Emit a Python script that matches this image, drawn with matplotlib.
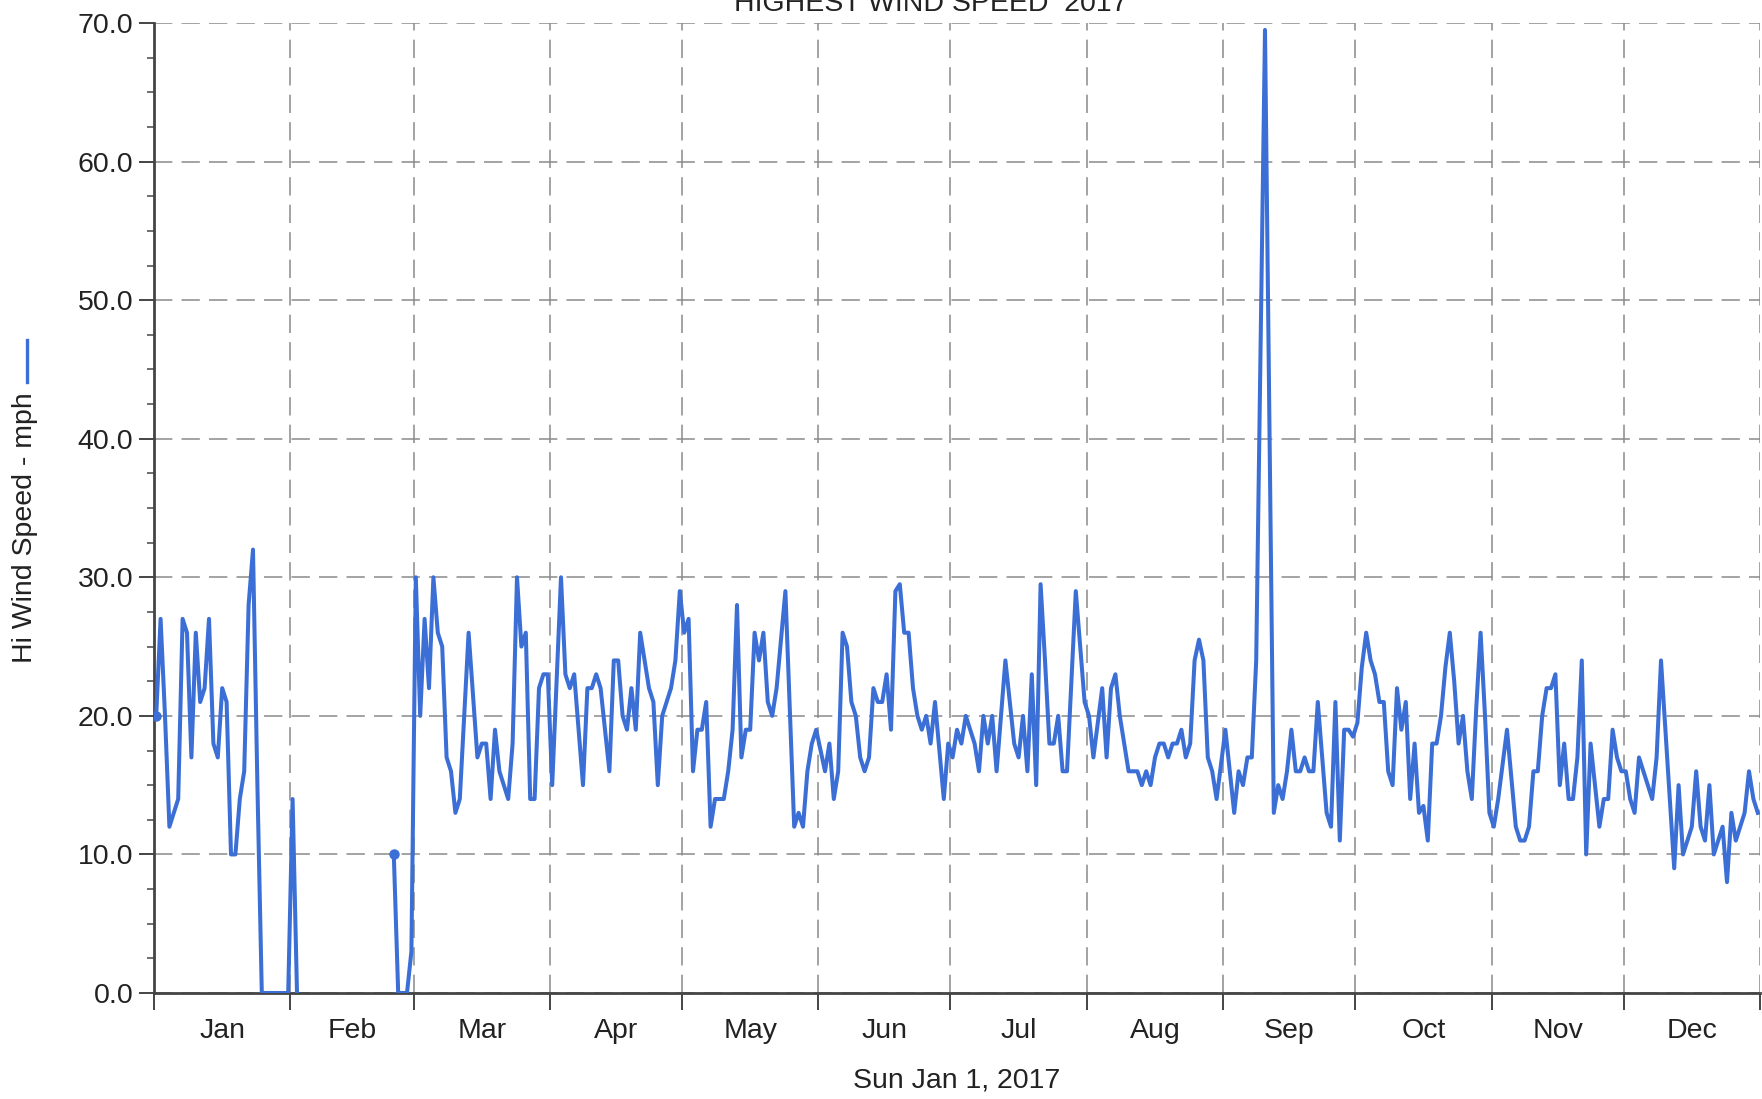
#!/usr/bin/env python3
"""
Daily highest wind speed for 2017 (Hi Wind Speed - mph).
"""

import numpy as np
import matplotlib
matplotlib.use('Agg')
import matplotlib.pyplot as plt
from matplotlib.lines import Line2D
from matplotlib.ticker import MultipleLocator, FixedLocator, NullFormatter

nan = np.nan

# daily highs, one list per month (nan = no data)
jan = [20, 27, 20, 12, 13, 14, 27, 26, 17, 26, 21, 22, 27, 18, 17, 22,
       21, 10, 10, 14, 16, 28, 32, 15, 0, 0, 0, 0, 0, 0, 0]
feb = [14, 0] + [nan] * 21 + [10, 0, 0, 0, 3]
mar = [30, 20, 27, 22, 30, 26, 25, 17, 16, 13, 14, 20, 26, 21.5, 17, 18,
       18, 14, 19, 16, 15, 14, 18, 30, 25, 26, 14, 14, 22, 23, 23]
apr = [15, 22.5, 30, 23, 22, 23, 19, 15, 22, 22, 23, 22, 19, 16, 24, 24,
       20, 19, 22, 19, 26, 24, 22, 21, 15, 20, 21, 22, 24, 29]
may = [26, 27, 16, 19, 19, 21, 12, 14, 14, 14, 16, 19, 28, 17, 19, 19,
       26, 24, 26, 21, 20, 22, 25.5, 29, 20.5, 12, 13, 12, 16, 18, 19]
jun = [17.5, 16, 18, 14, 16, 26, 25, 21, 20, 17, 16, 17, 22, 21, 21, 23,
       19, 29, 29.5, 26, 26, 22, 20, 19, 20, 18, 21, 17.5, 14, 18]
jul = [17, 19, 18, 20, 19, 18, 16, 20, 18, 20, 16, 20, 24, 21, 18, 17,
       20, 16, 23, 15, 29.5, 24, 18, 18, 20, 16, 16, 22.5, 29, 25, 21]
aug = [20, 17, 19.5, 22, 17, 22, 23, 20, 18, 16, 16, 16, 15, 16, 15, 17,
       18, 18, 17, 18, 18, 19, 17, 18, 24, 25.5, 24, 17, 16, 14, 16.5]
sep = [19, 16, 13, 16, 15, 17, 17, 24, 47, 69.5, 41, 13, 15, 14, 16, 19,
       16, 16, 17, 16, 16, 21, 17, 13, 12, 21, 11, 19, 19, 18.5]
oct_ = [19.5, 23.5, 26, 24, 23, 21, 21, 16, 15, 22, 19, 21, 14, 18, 13, 13.5,
        11, 18, 18, 20, 23.5, 26, 22.5, 18, 20, 16, 14, 20.5, 26, 20, 13]
nov = [12, 14, 16.5, 19, 15.5, 12, 11, 11, 12, 16, 16, 20, 22, 22, 23, 15,
       18, 14, 14, 17, 24, 10, 18, 15, 12, 14, 14, 19, 17, 16]
dec = [16, 14, 13, 17, 16, 15, 14, 17, 24, 19, 14, 9, 15, 10, 11, 12,
       16, 12, 11, 15, 10, 11, 12, 8, 13, 11, 12, 13, 16, 14, 13]

month_labels = ['Jan', 'Feb', 'Mar', 'Apr', 'May', 'Jun',
                'Jul', 'Aug', 'Sep', 'Oct', 'Nov', 'Dec']
month_days = [31, 28, 31, 30, 31, 30, 31, 31, 30, 31, 30, 31]

LINE_COLOR = '#3b6fd6'
TEXT_COLOR = '#222222'
W, H = 1762, 1099


def main():
    plt.rcParams['font.family'] = ['Liberation Sans', 'DejaVu Sans']

    speed = np.array(jan + feb + mar + apr + may + jun + jul + aug + sep
                     + oct_ + nov + dec, dtype=float)
    days = np.arange(len(speed)) + 0.5
    starts = np.concatenate([[0], np.cumsum(month_days)])
    mids = (starts[:-1] + starts[1:]) / 2

    # first point of each data run gets a dot
    valid = ~np.isnan(speed)
    prev_nan = np.concatenate([[True], ~valid[:-1]])
    seg_start = valid & prev_nan

    fig = plt.figure(figsize=(W / 100, H / 100), dpi=100)
    fig.patch.set_facecolor('white')
    ax = fig.add_axes([154 / W, 106 / H, (1760 - 154) / W, (993 - 23) / H])
    ax.set_facecolor('white')

    ax.plot(days, speed, color=LINE_COLOR, linewidth=2.9, zorder=3)
    ax.plot(days[seg_start], speed[seg_start], 'o', color=LINE_COLOR,
            markersize=6.5, zorder=3)

    ax.set_xlim(0, starts[-1])
    ax.set_ylim(0, 70)

    # y axis
    ax.yaxis.set_major_locator(MultipleLocator(10))
    ax.yaxis.set_minor_locator(MultipleLocator(2.5))
    ax.yaxis.set_major_formatter(plt.FuncFormatter(lambda v, p: f'{v:.1f}'))
    ax.tick_params(axis='y', which='major', length=11, width=1.4,
                   labelsize=20.5, labelcolor=TEXT_COLOR, color='#444444', pad=4)
    ax.tick_params(axis='y', which='minor', length=5, width=1.2, color='#555555')

    # x axis: ticks at month starts, labels mid-month
    ax.xaxis.set_major_locator(FixedLocator(starts))
    ax.xaxis.set_major_formatter(NullFormatter())
    ax.xaxis.set_minor_locator(FixedLocator(mids))
    ax.set_xticklabels(month_labels, minor=True)
    ax.tick_params(axis='x', which='major', length=12, width=1.4, color='#444444')
    ax.tick_params(axis='x', which='minor', length=0, pad=18,
                   labelsize=20.5, labelcolor=TEXT_COLOR)
    ax.set_xlabel('Sun Jan 1, 2017', fontsize=20.5, color=TEXT_COLOR, labelpad=17)

    # dashed grid
    ax.set_axisbelow(True)
    ax.grid(True, which='major', color='#8a8a8a', linewidth=1.1,
            linestyle=(0, (12, 6)))

    ax.spines['top'].set_visible(False)
    ax.spines['right'].set_visible(False)
    ax.spines['left'].set_color('#444444')
    ax.spines['bottom'].set_color('#444444')
    ax.spines['left'].set_linewidth(2)
    ax.spines['bottom'].set_linewidth(2)

    # y label with series swatch above it
    fig.text(25 / W, 1 - 528 / H, 'Hi Wind Speed - mph', rotation=90,
             ha='center', va='center', fontsize=20.5, color=TEXT_COLOR)
    fig.add_artist(Line2D([27 / W, 27 / W], [1 - 340 / H, 1 - 382 / H],
                          transform=fig.transFigure, color=LINE_COLOR,
                          linewidth=2.4))

    # title is cut off at the top edge in the original
    fig.text(931 / W, 1 - 11 / H, 'HIGHEST WIND SPEED  2017', ha='center',
             va='baseline', fontsize=20.5, color=TEXT_COLOR)

    fig.savefig('out.png', dpi=100, facecolor='white')


if __name__ == '__main__':
    main()
